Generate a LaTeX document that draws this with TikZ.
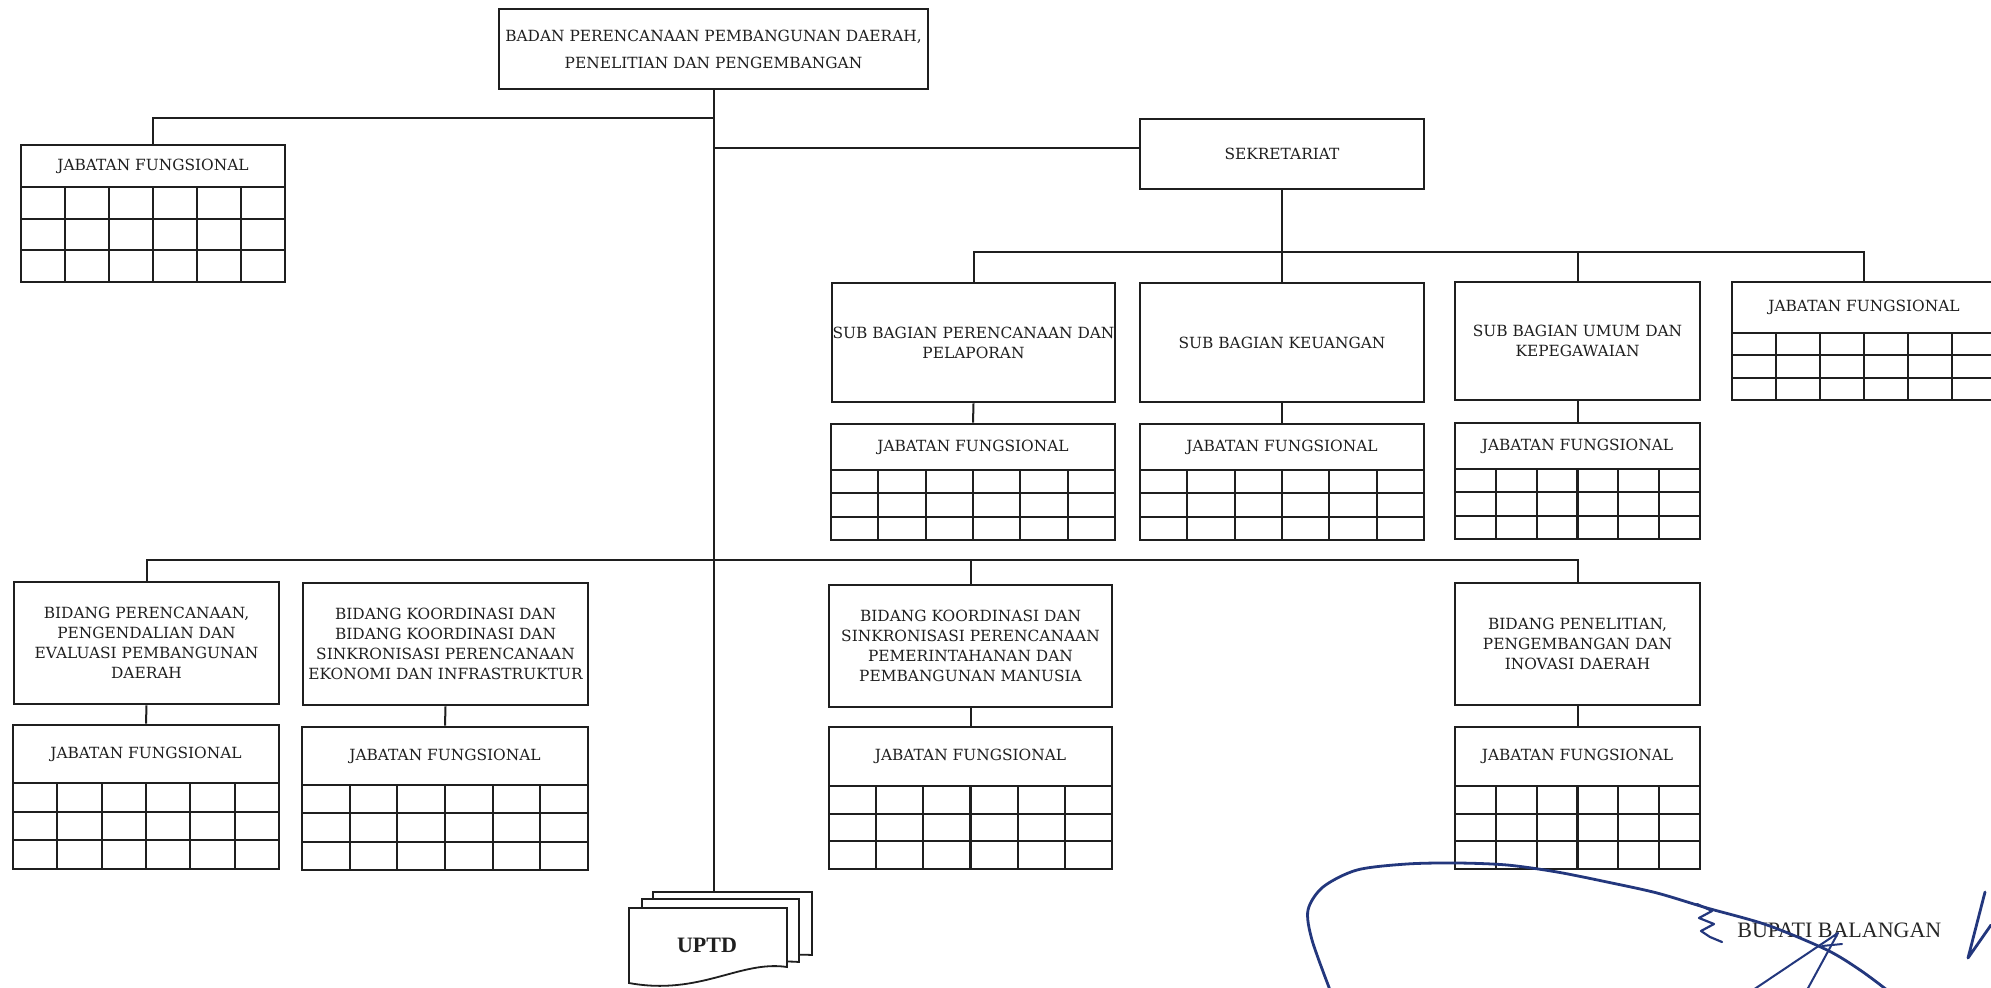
\documentclass[tikz,border=0pt]{standalone}
\usepackage{fontspec}
\setmainfont{DejaVu Serif}
\newfontfamily\sigfont{Liberation Serif}
\newcommand\bx[6]{\node[box,minimum width={(#4-#2)*0.5pt},minimum height={(#5-#3)*0.5pt}] (#1) at ({(#2+#4)/2},{(#3+#5)/2}) {#6};}
\newcommand\jft[6]{%
\node[box,minimum width={(#4-#2)*0.5pt},minimum height={(#5-#3)*0.5pt}] (#1) at ({(#2+#4)/2},{(#3+#5)/2}) {JABATAN FUNGSIONAL};
\draw[gridln] (#2,#5) rectangle (#4,#6);
\foreach \k in {1,2}{\draw[gridln] (#2,{#5+\k*(#6-#5)/3}) -- (#4,{#5+\k*(#6-#5)/3});}
\foreach \k in {1,...,5}{\draw[gridln] ({#2+\k*(#4-#2)/6},#5) -- ({#2+\k*(#4-#2)/6},#6);}
}
\begin{document}
\begin{tikzpicture}[x=0.5pt,y=-0.5pt,
  box/.style={draw=black!88,line width=1.35pt,fill=white,inner sep=0pt,align=center,text=black!88,font=\fontsize{7.7}{10}\selectfont},
  gridln/.style={draw=black!88,line width=1.1pt},
  conn/.style={draw=black!88,line width=1pt},
  sheet/.style={draw=black!88,line width=0.9pt,fill=white},
  sig/.style={draw={rgb,255:red,35;green,55;blue,125},line cap=round,line join=round}]
\useasboundingbox[fill=white] (0,0) rectangle (1991,988);

% boxes
\node[box,font=\fontsize{7.7}{13.5}\selectfont,minimum width={429*0.5pt},minimum height={80*0.5pt}] (top) at (713.5,49) {BADAN PERENCANAAN PEMBANGUNAN DAERAH,\\PENELITIAN DAN PENGEMBANGAN};
\bx{sek}{1140}{119}{1424}{189}{SEKRETARIAT}
\bx{sb1}{832}{283}{1115}{402}{SUB BAGIAN PERENCANAAN DAN\\PELAPORAN}
\bx{sb2}{1140}{283}{1424}{402}{SUB BAGIAN KEUANGAN}
\bx{sb3}{1455}{282}{1700}{400}{SUB BAGIAN UMUM DAN\\KEPEGAWAIAN}
\bx{b1}{14}{582}{279}{704}{BIDANG PERENCANAAN,\\PENGENDALIAN DAN\\EVALUASI PEMBANGUNAN\\DAERAH}
\bx{b2}{303}{583}{588}{705}{BIDANG KOORDINASI DAN\\BIDANG KOORDINASI DAN\\SINKRONISASI PERENCANAAN\\EKONOMI DAN INFRASTRUKTUR}
\bx{b3}{829}{585}{1112}{707}{BIDANG KOORDINASI DAN\\SINKRONISASI PERENCANAAN\\PEMERINTAHANAN DAN\\PEMBANGUNAN MANUSIA}
\bx{b4}{1455}{583}{1700}{705}{BIDANG PENELITIAN,\\PENGEMBANGAN DAN\\INOVASI DAERAH}

% tables
\jft{jfTL}{21}{145}{285}{187}{282}
\jft{jfR}{1732}{282}{1996}{333}{400}
\jft{jfS1}{831}{424}{1115}{470}{540}
\jft{jfS2}{1140}{424}{1424}{470}{540}
\jft{jfS3}{1455}{423}{1700}{469}{539}
\jft{jfB1}{13}{725}{279}{783}{869}
\jft{jfB2}{302}{727}{588}{785}{870}
\jft{jfB3}{829}{727}{1112}{786}{869}
\jft{jfB4}{1455}{727}{1700}{786}{869}

% UPTD
\draw[sheet] (653,892) -- (812,892) -- (812,955) .. controls (760,952) and (720,975) .. (653,962) -- cycle;
\draw[sheet] (642,899) -- (799,899) -- (799,962) .. controls (750,958) and (712,982) .. (642,972) -- cycle;
\draw[sheet] (629,908) -- (787,908) -- (787,967) .. controls (740,960) and (700,996) .. (629,983) -- cycle;
\node[font=\sigfont\bfseries\fontsize{11}{13}\selectfont,text=black!88] (uptd) at (707,945) {UPTD};
\coordinate (uptdtop) at (713.5,892);

% connectors
\coordinate (jtl) at (713.5,118);
\coordinate (js) at (713.5,148);
\coordinate (bus1) at (1282,252);
\coordinate (bus2) at (713.5,560);
\draw[conn] (top.south) -- (uptdtop);
\draw[conn] (jtl) -| (jfTL.north);
\draw[conn] (js) -- (js -| sek.west);
\draw[conn] (sek.south) -- (bus1);
\draw[conn] (sb1.north) -- (sb1.north |- bus1) -- (jfR.north |- bus1) -- (jfR.north);
\draw[conn] (sb2.north) -- (sb2.north |- bus1);
\draw[conn] (sb3.north) -- (sb3.north |- bus1);
\draw[conn] (sb1.south) -- (jfS1.north);
\draw[conn] (sb2.south) -- (jfS2.north);
\draw[conn] (sb3.south) -- (jfS3.north);
\draw[conn] (b1.north) -- (b1.north |- bus2) -- (b4.north |- bus2) -- (b4.north);
\draw[conn] (b3.north) -- (b3.north |- bus2);
\draw[conn] (b1.south) -- (jfB1.north);
\draw[conn] (b2.south) -- (jfB2.north);
\draw[conn] (b3.south) -- (jfB3.north);
\draw[conn] (b4.south) -- (jfB4.north);

% signature block
\node[font=\sigfont\fontsize{11}{13}\selectfont,text=black!85,anchor=west,inner sep=0pt] (bupati) at (1737,930) {BUPATI BALANGAN};
\draw[sig,line width=1.4pt] plot[smooth] coordinates {(1330,990) (1312,940) (1308,910) (1323,887) (1357,870) (1407,864) (1457,863) (1507,865) (1557,872) (1607,882) (1657,893) (1707,908) (1767,925) (1827,950) (1860,970) (1887,990)};
\draw[sig,line width=1.1pt] (1697,904) -- (1712,911) -- (1699,918) -- (1714,924) -- (1701,931) -- (1710,937) -- (1722,942);
\draw[sig,line width=1pt] (1753,990) -- (1838,933) -- (1807,990);
\draw[sig,line width=1pt] (1822,946) -- (1842,944);
\draw[sig,line width=1.4pt] (1985,892) -- (1968,958) -- (1991,925);
\end{tikzpicture}
\end{document}
